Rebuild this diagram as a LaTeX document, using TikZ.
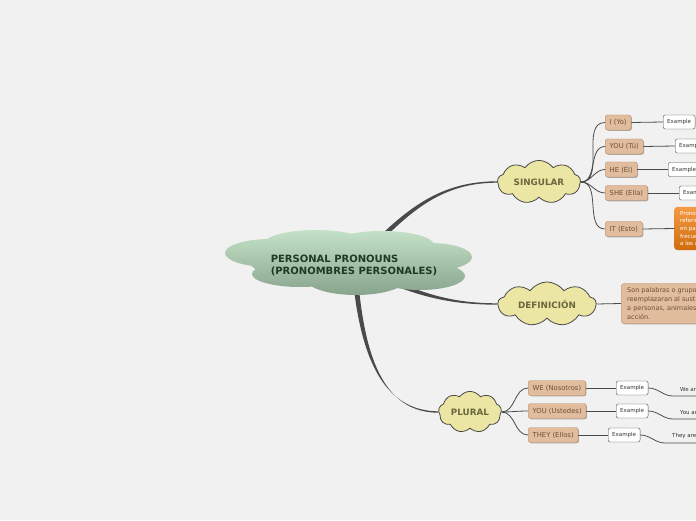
\documentclass[tikz,border=0pt]{standalone}
\usepackage{fontspec}
\setmainfont{DejaVu Sans}
\usetikzlibrary{shapes.symbols, shadows, backgrounds, positioning}
\definecolor{cbg}{HTML}{F1F1F1}
\definecolor{ccoretop}{HTML}{C4E2C8}
\definecolor{ccorebot}{HTML}{88A48C}
\definecolor{ccoretxt}{HTML}{1E3A22}
\definecolor{cyellow}{HTML}{EBE6A3}
\definecolor{colive}{HTML}{6A673E}
\definecolor{cdark}{HTML}{4A4A4A}
\definecolor{ctan}{HTML}{E2BD9D}
\definecolor{ctanline}{HTML}{B8926F}
\definecolor{ctantxt}{HTML}{6A5038}
\definecolor{corangetop}{HTML}{F49A46}
\definecolor{corangebot}{HTML}{D06C0C}
\tikzset{
  every picture/.style={x=1pt, y=1pt},
  core/.style={text=ccoretxt, font=\bfseries\fontsize{10}{12}\selectfont, align=left, inner sep=0pt},
  idea/.style={cloud, cloud puffs=9, cloud puff arc=110, draw=cdark, line width=0.8pt, fill=cyellow,
               text=colive, font=\bfseries\fontsize{8.8}{10}\selectfont, inner sep=0pt},
  sub/.style={draw=ctanline, fill=ctan, rounded corners=2.5pt, text=ctantxt, anchor=west,
              font=\fontsize{6.8}{8}\selectfont, inner xsep=4.5pt, minimum height=15pt,
              drop shadow={shadow xshift=0.8pt, shadow yshift=-0.8pt, opacity=0.3, fill=black}},
  ex/.style={draw=cdark, fill=white, rounded corners=2pt, anchor=west, text=black!80,
             font=\fontsize{5.5}{7}\selectfont, inner xsep=4pt, minimum height=14pt},
  note/.style={rounded corners=3pt, anchor=west, align=left, inner xsep=6pt, inner ysep=4pt},
  leaf/.style={anchor=south west, text=black!80, font=\fontsize{5.5}{7}\selectfont, inner xsep=7pt, inner ysep=4pt},
  branch/.style={fill=cdark},
  twig/.style={draw=cdark, line width=0.8pt},
}
\begin{document}
\begin{tikzpicture}
  \useasboundingbox (0,0) rectangle (696,520);
  \clip (0,0) rectangle (696,520);

  % centre cloud
  \shade[top color=ccoretop, bottom color=ccorebot]
    (270,267) ellipse (45 and 14) (316,276) ellipse (52 and 14) (382,275) ellipse (52 and 14)
    (430,263) ellipse (42 and 14) (300,246) ellipse (48 and 13) (356,241) ellipse (50 and 16)
    (420,244) ellipse (45 and 14) (350,258) ellipse (100 and 22);
  \node[core] (core) at (354,255) {PERSONAL PRONOUNS\\(PRONOMBRES PERSONALES)};

  % main topics
  \node[idea, minimum width=83, minimum height=38, aspect=2.2] (sing) at (539,338) {SINGULAR};
  \node[idea, minimum width=98, minimum height=37, aspect=2.6] (defn) at (547,216) {DEFINICIÓN};
  \node[idea, minimum width=63, minimum height=38, aspect=1.6] (plur) at (470,108) {PLURAL};

  % singular
  \node[sub] (i)   at (605,397.5) {I (Yo)};
  \node[sub] (you) at (605,373.5) {YOU (Tú)};
  \node[sub] (he)  at (605,350.5) {HE (Él)};
  \node[sub] (she) at (605,327)   {SHE (Ella)};
  \node[sub] (it)  at (605,291)   {IT (Esto)};
  \node[ex] (exi)   at (663,398)   {Example};
  \node[ex] (exyou) at (675,374)   {Example};
  \node[ex] (exhe)  at (668,350.5) {Example};
  \node[ex] (exshe) at (679,327)   {Example};
  \node[note, top color=corangetop, bottom color=corangebot, text=white,
        font=\fontsize{5.5}{7.7}\selectfont] (itnote) at (674,291.5)
    {Pronombre que se usa para\\referirse a cosas u objetos\\en particular, y con\\frecuencia se refiere\\a los animales.};

  % definicion
  \node[note, draw=ctanline, fill=ctan, text=ctantxt, font=\fontsize{6.5}{9}\selectfont,
        drop shadow={shadow xshift=0.8pt, shadow yshift=-0.8pt, opacity=0.3, fill=black}] (defnote) at (621,216.5)
    {Son palabras o grupos de palabras que\\reemplazaran al sustantivo y hacen referencia\\a personas, animales o cosas que realizan la\\acción.};

  % plural
  \node[sub] (we)   at (528,132) {WE (Nosotros)};
  \node[sub] (youp) at (528,109) {YOU (Ustedes)};
  \node[sub] (they) at (528,85)  {THEY (Ellos)};
  \node[ex] (exwe)   at (616,132) {Example};
  \node[ex] (exyoup) at (616,109) {Example};
  \node[ex] (exthey) at (608,85)  {Example};
  \node[leaf] (lwe)   at (673,124) {We are friends.};
  \node[leaf] (lyoup) at (673,101) {You are students.};
  \node[leaf] (lthey) at (665,77)  {They are teachers.};

  \begin{scope}[on background layer]
    \fill[cbg] (0,0) rectangle (696,520);
    % tapered main branches
    \fill[branch] ([shift={(-1.8,1.8)}]core.center) to[out=45, in=180] ([yshift=0.7]sing.west)
      -- ([yshift=-0.7]sing.west) to[out=180, in=45] ([shift={(1.8,-1.8)}]core.center) -- cycle;
    \fill[branch] ([shift={(1.1,2.4)}]core.center) to[out=-25, in=180] ([yshift=0.7]defn.west)
      -- ([yshift=-0.7]defn.west) to[out=180, in=-25] ([shift={(-1.1,-2.4)}]core.center) -- cycle;
    \fill[branch] ([xshift=2.6]core.center) to[out=-85, in=180] ([yshift=-0.7]plur.west)
      -- ([yshift=0.7]plur.west) to[out=180, in=-85] ([xshift=-2.6]core.center) -- cycle;
  \end{scope}

  \foreach \n in {i, you, he, she, it}
    \draw[twig] (sing.east) to[out=0, in=180] (\n.west);
  \foreach \n in {we, youp, they}
    \draw[twig] (plur.east) to[out=0, in=180] (\n.west);
  \draw[twig] (i.east) -- (exi.west);
  \draw[twig] (you.east) -- (exyou.west);
  \draw[twig] (he.east) -- (exhe.west);
  \draw[twig] (she.east) -- (exshe.west);
  \draw[twig] (it.east) -- (itnote.west);
  \draw[twig] (defn.east) -- (defnote.west);
  \draw[twig] (we.east) -- (exwe.west);
  \draw[twig] (youp.east) -- (exyoup.west);
  \draw[twig] (they.east) -- (exthey.west);
  \foreach \e/\l in {exwe/lwe, exyoup/lyoup, exthey/lthey}
    \draw[twig] (\e.east) to[out=0, in=180] (\l.south west) -- (\l.south east);
\end{tikzpicture}
\end{document}
